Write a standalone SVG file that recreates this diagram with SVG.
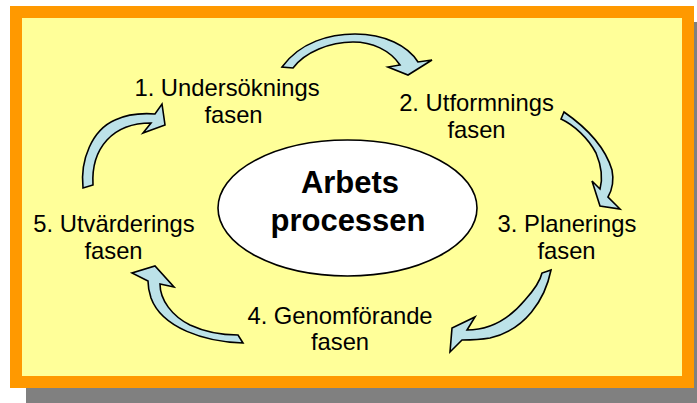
<svg xmlns="http://www.w3.org/2000/svg" width="697" height="403" viewBox="0 0 697 403">
<style>
.lbl{font-family:"Liberation Sans",Arial,sans-serif;font-size:23.8px;fill:#000;text-anchor:middle}
.ctr{font-family:"Liberation Sans",Arial,sans-serif;font-size:31px;font-weight:bold;fill:#000;text-anchor:middle}
.arr{fill:#BCE2E8;stroke:#000;stroke-width:1.6;stroke-linejoin:miter}
</style>
<g id="frame">
<rect x="26" y="22" width="684" height="382" fill="#808080"/>
<rect x="16" y="12" width="672" height="370" fill="#FFFF99" stroke="#FF9900" stroke-width="12"/>
</g>
<g id="center">
<ellipse cx="347.5" cy="208" rx="129.5" ry="68" fill="#FFFFFF" stroke="#000" stroke-width="1.6"/>
<text class="ctr" x="350" y="193">Arbets</text>
<text class="ctr" x="348" y="231">processen</text>
</g>
<g id="node1"><text class="lbl"><tspan x="227" y="96">1. Undersöknings</tspan><tspan x="233.5" y="123">fasen</tspan></text></g>
<g id="node2"><text class="lbl"><tspan x="476.5" y="111">2. Utformnings</tspan><tspan x="476.5" y="138">fasen</tspan></text></g>
<g id="node3"><text class="lbl"><tspan x="567" y="232">3. Planerings</tspan><tspan x="566.5" y="259">fasen</tspan></text></g>
<g id="node4"><text class="lbl"><tspan x="340" y="324">4. Genomförande</tspan><tspan x="340" y="350">fasen</tspan></text></g>
<g id="node5"><text class="lbl"><tspan x="114" y="232">5. Utvärderings</tspan><tspan x="113.5" y="259">fasen</tspan></text></g>
<g id="connectors">
<path class="arr" d="M282,67 C300,42 330,34 355,34 C385,34 408,46 418,62 L432,60 L408,75 L388,67 L400,65 C390,50 372,42 353,42 C330,42 305,52 293,68 Z"/>
<path class="arr" d="M564,112 C590,130 606,150 612,170 C614,180 612,190 608,197 L620,209 L600,206 L592,181 L600,189 C603,178 601,165 596,153 C588,138 574,125 561,119 Z"/>
<path class="arr" d="M551,270 C545,300 525,330 490,338 C478,340 470,340 462,340 L450,352 L452,328 L475,317 L467,330 C490,330 510,318 525,300 C534,290 540,282 542,273 Z"/>
<path class="arr" d="M243,343 C205,342 162,328 151,298 C149,292 148,287 148,281 L132,273 L155,266 L174,287 L160,284 C160,300 172,316 190,325 C205,332 222,335 238,335 Z"/>
<path class="arr" d="M83,188 C80,160 92,130 115,120 C128,114 142,113 155,114 L162,104 L165,125 L143,133 L151,123 C135,123 118,128 107,140 C96,152 92,168 93,185 Z"/>
</g>
</svg>
